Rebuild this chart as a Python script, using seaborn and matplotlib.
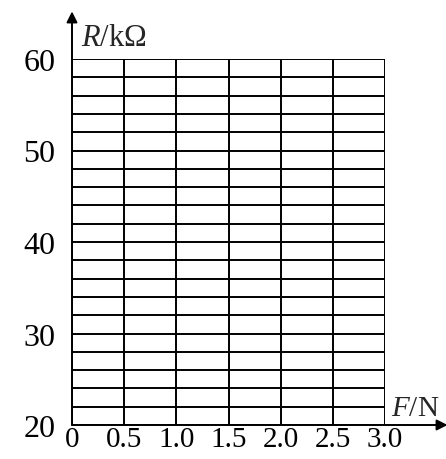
import matplotlib
matplotlib.use('Agg')
import matplotlib.pyplot as plt
import seaborn as sns

# axis values
force_ticks = [0, 0.5, 1.0, 1.5, 2.0, 2.5, 3.0]
force_labels = ['0', '0.5', '1.0', '1.5', '2.0', '2.5', '3.0']
res_ticks = [20, 30, 40, 50, 60]
res_labels = ['20', '30', '40', '50', '60']
res_grid = [20, 22, 24, 26, 28, 30, 32, 34, 36, 38, 40,
            42, 44, 46, 48, 50, 52, 54, 56, 58, 60]

sns.set_style('white')
plt.rcParams['font.family'] = ['Liberation Serif', 'DejaVu Serif']
plt.rcParams['mathtext.fontset'] = 'custom'
plt.rcParams['mathtext.rm'] = 'Liberation Serif'
plt.rcParams['mathtext.it'] = 'Liberation Serif:italic'

fig = plt.figure(figsize=(4.46, 4.6), dpi=100)
ax = fig.add_axes([72 / 446, 1 - 426 / 460, 313 / 446, 366 / 460])

# grid lines
for r in res_grid:
    ax.axhline(r, color='black', lw=1.4, zorder=1)
for f in force_ticks:
    ax.axvline(f, color='black', lw=1.4, zorder=1)

ax.set_xlim(force_ticks[0], force_ticks[-1])
ax.set_ylim(res_grid[0], res_grid[-1])
ax.set_xticks(force_ticks)
ax.set_xticklabels(force_labels)
ax.set_yticks(res_ticks)
ax.set_yticklabels(res_labels)
ax.tick_params(axis='both', length=0, colors='black')
ax.tick_params(axis='x', pad=1, labelsize=21)
ax.tick_params(axis='y', pad=12, labelsize=23)

for s in ax.spines.values():
    s.set_visible(False)

# axis arrows
ax.annotate('', xy=(0, 1.13), xytext=(0, 0), xycoords='axes fraction',
            arrowprops=dict(arrowstyle='-|>', color='black', lw=1.4,
                            mutation_scale=16, shrinkA=0, shrinkB=0))
ax.annotate('', xy=(1.20, 0), xytext=(0, 0), xycoords='axes fraction',
            arrowprops=dict(arrowstyle='-|>', color='black', lw=1.4,
                            mutation_scale=16, shrinkA=0, shrinkB=0))

fig.text(81 / 446, 1 - 46 / 460, r'$R$/kΩ', fontsize=22, ha='left', va='baseline')
fig.text(391 / 446, 1 - 416 / 460, r'$F$/N', fontsize=21, ha='left', va='baseline')

fig.savefig('out.png', dpi=100, facecolor='white')
